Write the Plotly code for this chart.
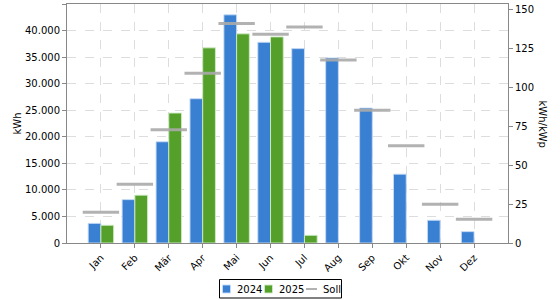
import plotly.graph_objects as go

months = ["Jan", "Feb", "Mär", "Apr", "Mai", "Jun", "Jul", "Aug", "Sep", "Okt", "Nov", "Dez"]
kwh_2024 = [3700, 8170, 19060, 27170, 42960, 37790, 36600, 34850, 25410, 12960, 4280, 2140]
kwh_2025 = [3340, 9000, 24470, 36740, 39380, 38810, 1450, None, None, None, None, None]
soll = [19.7, 37.7, 72.7, 109, 141, 134, 138.7, 117.5, 85.3, 62.4, 24.9, 15.2]

font = "DejaVu Sans, Verdana, sans-serif"
BLUE = "#3a80d2"
GREEN = "#54a02a"
GREY = "rgba(170,170,170,0.9)"

W, H = 560, 300
ML, MR, MT, MB = 67, 52, 4, 57
PW, PH = W - ML - MR, H - MT - MB


def px(x):
    return (x - ML) / PW


def py(y):
    return (H - MB - y) / PH


fig = go.Figure()
fig.add_trace(go.Bar(
    x=months, y=kwh_2024, name="2024",
    marker=dict(color=BLUE, line=dict(color="rgba(200,220,245,0.9)", width=1)),
))
fig.add_trace(go.Bar(
    x=months, y=kwh_2025, name="2025",
    marker=dict(color=GREEN, line=dict(color="rgba(210,235,200,0.9)", width=1)),
))
fig.add_trace(go.Scatter(
    x=months, y=soll, name="Soll", yaxis="y2", mode="markers",
    marker=dict(symbol="line-ew", size=26, color=GREY,
                line=dict(color=GREY, width=3)),
))

# custom compact legend (layout decoration)
shapes = [
    dict(type="rect", xref="paper", yref="paper", x0=px(219.5), x1=px(341.5),
         y0=py(298), y1=py(279.5), line=dict(color="#000", width=1), fillcolor="white"),
    dict(type="rect", xref="paper", yref="paper", x0=px(222.5), x1=px(230.5),
         y0=py(293), y1=py(285), line=dict(color="rgba(200,220,245,0.9)", width=1), fillcolor=BLUE),
    dict(type="rect", xref="paper", yref="paper", x0=px(264.5), x1=px(272.5),
         y0=py(293), y1=py(285), line=dict(color="rgba(210,235,200,0.9)", width=1), fillcolor=GREEN),
    dict(type="line", xref="paper", yref="paper", x0=px(306), x1=px(317),
         y0=py(289), y1=py(289), line=dict(color=GREY, width=2)),
]
legend_ann = [
    dict(text=t, xref="paper", yref="paper", x=px(x), y=py(289), xanchor="left",
         yanchor="middle", showarrow=False, font=dict(size=10))
    for t, x in [("2024", 235), ("2025", 277), ("Soll", 320.5)]
]

fig.update_layout(
    width=W, height=H,
    margin=dict(l=ML, r=MR, t=MT, b=MB, autoexpand=False),
    paper_bgcolor="white", plot_bgcolor="white",
    separators=",.",
    font=dict(family=font, size=10, color="#000"),
    barmode="group", bargap=0.25, bargroupgap=0,
    showlegend=False,
    xaxis=dict(type="category", range=[-1, 12], tickangle=-45,
               showgrid=True, gridcolor="#dddddd", griddash="dash", gridwidth=1,
               showline=True, linecolor="#888", linewidth=1, mirror=True,
               ticks="outside", ticklen=4, tickcolor="#888"),
    yaxis=dict(range=[0, 45000], dtick=5000, tickformat=",d",
               showgrid=True, gridcolor="#dddddd", griddash="dash", gridwidth=1,
               showline=True, linecolor="#888", linewidth=1,
               ticks="outside", ticklen=4, tickcolor="#888", zeroline=False),
    yaxis2=dict(overlaying="y", side="right", range=[0, 153.5], dtick=25,
                showgrid=False, showline=True, linecolor="#888", linewidth=1,
                ticks="outside", ticklen=4, tickcolor="#888", zeroline=False),
    shapes=shapes,
    annotations=[
        dict(text="kWh", textangle=-90, xref="paper", yref="paper",
             x=px(17), y=0.5, xanchor="center", yanchor="middle",
             showarrow=False, font=dict(size=10)),
        dict(text="kWh/kWp", textangle=90, xref="paper", yref="paper",
             x=px(542), y=0.5, xanchor="center", yanchor="middle",
             showarrow=False, font=dict(size=10)),
    ] + legend_ann,
)

fig.write_html("out.html")
